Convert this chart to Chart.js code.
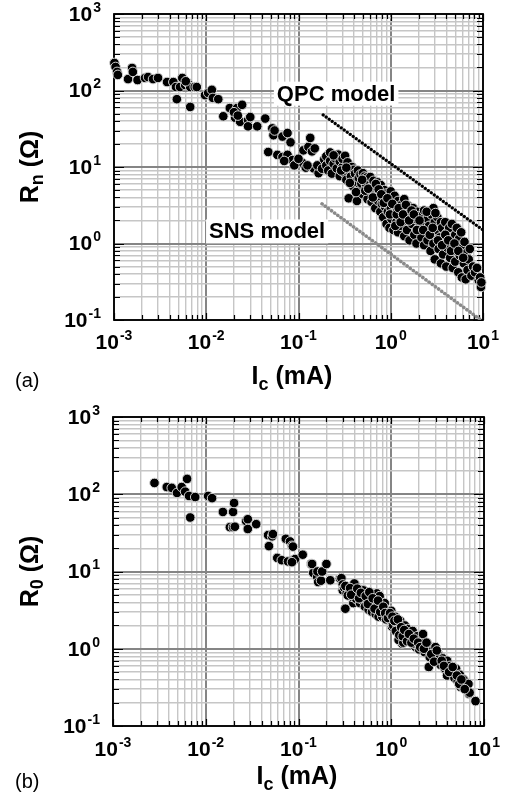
<!DOCTYPE html>
<html>
<head>
<meta charset="utf-8">
<script src="https://cdn.jsdelivr.net/npm/chart.js@4/dist/chart.umd.min.js"></script>
<style>
  html, body { margin: 0; padding: 0; background: #fff; }
  .panel { position: absolute; left: 0; width: 505px; }
</style>
</head>
<body>
<div class="panel" style="top:0;height:400px"><canvas id="rn_chart" width="505" height="400"></canvas></div>
<div class="panel" style="top:400px;height:402px"><canvas id="r0_chart" width="505" height="402"></canvas></div>
<script>
//axis decades (powers of ten) and the minor steps inside each decade
const xDecades = [-3, -2, -1, 0, 1];
const yDecades = [-1, 0, 1, 2, 3];
const minorSteps = [1, 2, 3, 4, 5, 6, 7, 8, 9];

//(a) normal resistance Rn vs critical current Ic
const rnIc = [
  0.00101, 0.00104, 0.00108, 0.00110, 0.00142, 0.00157, 0.00160, 0.00180, 0.00217, 0.00234,
  0.00265, 0.00300, 0.00376, 0.00440, 0.00470, 0.00480, 0.00520, 0.00550, 0.00590, 0.00630,
  0.00670, 0.00670, 0.00750, 0.00790, 0.00970, 0.01050, 0.01150, 0.01180, 0.01350, 0.00600,
  0.0153, 0.0180, 0.0206, 0.0216, 0.0233, 0.0245, 0.0284, 0.0284, 0.0357, 0.0436,
  0.0470, 0.0520, 0.0535, 0.0590, 0.0670, 0.0670, 0.0760, 0.0760, 0.0820, 0.0860,
  0.0970, 0.1100, 0.1130, 0.1280, 0.1340, 0.1460, 0.1650, 0.0200, 0.0220, 0.0300,
  0.0550, 0.0700, 0.0900, 0.1000, 0.1200, 0.1400, 0.1500, 0.1250, 0.1600, 0.1800,
  0.19, 0.20, 0.20, 0.21, 0.22, 0.22, 0.23, 0.24, 0.25, 0.26,
  0.27, 0.28, 0.28, 0.30, 0.30, 0.31, 0.32, 0.33, 0.34, 0.35,
  0.35, 0.37, 0.38, 0.39, 0.40, 0.41, 0.42, 0.43, 0.44, 0.45,
  0.46, 0.47, 0.48, 0.50, 0.50, 0.52, 0.54, 0.55, 0.56, 0.58,
  0.60, 0.60, 0.62, 0.63, 0.65, 0.67, 0.68, 0.70, 0.72, 0.73,
  0.75, 0.77, 0.78, 0.80, 0.80, 0.83, 0.85, 0.87, 0.88, 0.90,
  0.90, 0.93, 0.95, 0.97, 1.00, 1.00, 1.02, 1.05, 1.07, 1.10,
  1.10, 1.13, 1.15, 1.18, 1.20, 1.20, 1.25, 1.30, 1.30, 1.35,
  1.40, 1.40, 1.45, 1.50, 1.50, 1.55, 1.60, 1.65, 1.70, 1.75,
  1.80, 1.85, 1.90, 1.95, 2.00, 2.10, 2.15, 2.20, 2.30, 2.30,
  2.40, 2.50, 2.50, 2.60, 2.70, 2.75, 2.80, 2.90, 2.90, 3.00,
  3.00, 3.10, 3.20, 3.30, 3.40, 3.50, 3.50, 3.60, 3.70, 3.80,
  3.90, 4.00, 4.00, 4.10, 4.30, 4.40, 4.50, 4.60, 4.70, 4.80,
  5.00, 5.00, 5.20, 5.30, 5.40, 5.50, 5.60, 5.80, 5.90, 6.00,
  6.20, 6.30, 6.50, 6.60, 6.80, 7.00, 7.20, 7.50, 7.80, 8.20,
  8.60, 9.00, 9.30, 9.50, 9.60,
  0.24, 0.29, 0.33, 0.36, 0.42, 0.49, 0.53, 0.57, 0.64, 0.69,
  0.74, 0.79, 0.84, 0.92, 0.98, 1.04, 1.12, 1.16, 1.22, 1.28,
  1.36, 1.46, 1.58, 1.68, 1.78, 1.92, 2.05, 2.25, 2.45, 2.65,
  2.85, 3.05, 3.25, 3.60, 3.90, 4.20, 4.50, 4.90, 5.40, 6.10
];
const rnR = [
  229, 203, 175, 160, 141, 197, 175, 137, 146, 150,
  141, 146, 129, 129, 111, 77, 111, 146, 118, 125,
  61, 111, 111, 111, 87, 93, 102, 80, 77, 132,
  46, 59, 44, 59, 39, 65, 41, 34, 34, 43,
  15.7, 32, 26, 14.4, 25, 13.5, 27.8, 14.4, 21, 12.3,
  11.6, 11.3, 16.5, 18.3, 24, 9.6, 8.3, 52, 47, 45,
  30, 12, 10.5, 12.8, 9.8, 16, 17.5, 10.5, 10.5, 9.5,
  12.5, 10.5, 13.8, 9.0, 12, 15.5, 8.2, 11, 13, 9.6,
  14.5, 7.6, 11.8, 10, 12.8, 8.5, 14, 6.8, 11.5, 9.2,
  3.9, 7.5, 10, 5.6, 9.2, 8.2, 6.4, 3.6, 9.0, 7.2,
  5.2, 8.0, 6.1, 8.3, 4.4, 7.5, 5.8, 7.3, 3.8, 6.6,
  4.9, 7.4, 3.5, 5.6, 6.6, 4.3, 2.9, 5.4, 6.3, 3.6,
  4.6, 2.6, 5.8, 3.3, 4.0, 2.2, 5.0, 3.0, 3.8, 1.8,
  4.5, 2.6, 3.4, 1.6, 4.8, 2.9, 2.1, 3.7, 1.5, 2.5,
  4.2, 3.1, 1.9, 2.7, 1.4, 3.6, 2.2, 3.2, 1.7, 2.8,
  1.25, 3.8, 2.0, 2.6, 1.5, 3.1, 1.1, 2.3, 1.8, 2.9,
  1.3, 2.1, 1.0, 2.6, 1.6, 2.3, 1.2, 1.9, 0.95, 2.7,
  1.5, 2.1, 1.1, 1.7, 0.8, 2.4, 1.3, 2.9, 1.0, 1.9,
  0.62, 1.5, 2.2, 0.85, 1.2, 1.9, 0.55, 1.6, 0.72, 1.0,
  1.9, 0.5, 1.35, 0.88, 1.6, 0.65, 1.1, 1.8, 0.48, 0.8,
  1.3, 0.58, 1.6, 0.95, 0.42, 1.15, 0.7, 1.4, 0.36, 0.9,
  0.55, 1.05, 0.34, 0.75, 0.45, 0.62, 0.85, 0.38, 0.5, 0.42,
  0.48, 0.33, 0.36, 0.27, 0.31,
  14.2, 9.0, 9.8, 6.2, 4.7, 6.8, 4.9, 5.2, 4.0, 6.0,
  5.1, 4.4, 3.4, 3.9, 2.4, 3.3, 1.7, 2.4, 2.9, 1.9,
  2.4, 3.2, 2.0, 2.7, 2.4, 1.5, 2.0, 1.5, 2.6, 1.3,
  1.6, 2.5, 1.1, 0.95, 1.3, 1.1, 0.8, 1.0, 0.8, 0.65
];

//model lines (end points)
const qpcIc = [0.185, 10];
const qpcR = [48, 1.5];
const snsIc = [0.18, 9.5];
const snsR = [3.3, 0.1];

//(b) zero-bias resistance R0 vs critical current Ic
const r0Ic = [
  0.0028, 0.0038, 0.0043, 0.0049, 0.0055, 0.0060, 0.0063, 0.0066, 0.0068, 0.0077,
  0.0106, 0.0117, 0.0153, 0.0197, 0.0202, 0.0182, 0.0197, 0.0206, 0.0272, 0.0284,
  0.0284, 0.0350, 0.0470, 0.0520, 0.0530, 0.0480, 0.0590, 0.0660, 0.0730, 0.0810,
  0.0850, 0.0870, 0.0770, 0.0870, 0.0920, 0.1110, 0.1370, 0.1440, 0.1590, 0.1630,
  0.085, 0.140, 0.160, 0.175, 0.180, 0.200, 0.220, 0.280, 0.306, 0.347,
  0.410, 0.320, 0.390, 0.445, 0.500, 0.525, 0.594, 0.673, 0.700, 0.760,
  0.830, 0.980, 1.020, 1.160, 1.260, 1.420, 1.310, 1.610, 1.820, 2.150,
  2.440, 2.540, 2.880, 3.260, 3.690, 4.000, 4.360, 4.730, 5.140, 5.600,
  6.600, 6.900, 8.100,
  0.29, 0.30, 0.30, 0.31, 0.33, 0.35, 0.38, 0.40, 0.40, 0.42,
  0.44, 0.46, 0.48, 0.50, 0.50, 0.52, 0.55, 0.57, 0.60, 0.60,
  0.62, 0.65, 0.68, 0.70, 0.70, 0.73, 0.75, 0.78, 0.80, 0.85,
  0.88, 0.90, 0.95, 1.00, 1.00, 1.05, 1.10, 1.15, 1.20, 1.20,
  1.25, 1.30, 1.35, 1.40, 1.45, 1.50, 1.60, 1.70, 1.80, 1.90,
  2.00, 2.10, 2.20, 2.30, 2.50, 2.60, 2.80, 3.00, 3.00, 3.20,
  3.40, 3.60, 3.80, 4.00, 4.00, 4.30, 4.50, 4.80, 5.00, 5.20,
  5.50, 5.80, 6.00, 6.50, 6.80, 7.00,
  0.32, 0.34, 0.36, 0.37, 0.43, 0.45, 0.47, 0.53, 0.56, 0.58,
  0.63, 0.66, 0.72, 0.76, 0.82, 0.86, 0.92, 0.97, 1.03, 1.08,
  1.12, 1.18, 1.22, 1.28, 1.33, 1.38, 1.48, 1.55, 1.65, 1.75,
  1.95, 2.05, 2.25, 2.40, 2.70, 2.90, 3.10, 3.50, 3.70, 4.20,
  4.60, 5.10, 5.40, 5.70, 6.20
];
const r0R = [
  140, 124, 121, 104, 124, 108, 158, 95, 50, 92,
  95, 89, 59, 59, 77, 37.5, 37.5, 38, 45, 47.5,
  35.5, 41, 29.6, 28.5, 30.5, 21.3, 15, 14, 26.5, 24.5,
  21.5, 21, 13.5, 14, 14.5, 16.5, 12.5, 9.6, 8.5, 7.3,
  13.2, 12.5, 10, 7.6, 10, 12.5, 7.7, 8.1, 6.4, 5.5,
  6.7, 3.3, 3.9, 5.2, 5.7, 4.3, 4.06, 4.95, 3.5, 3.2,
  3.7, 2.47, 1.93, 2.13, 1.66, 1.29, 1.17, 1.43, 1.06, 1.5,
  1.17, 0.58, 0.96, 0.83, 0.71, 0.53, 0.58, 0.43, 0.48, 0.32,
  0.36, 0.26, 0.21,
  8.2, 6.8, 5.7, 6.2, 5.2, 5.8, 4.7, 7.0, 5.3, 4.4,
  5.6, 3.9, 4.8, 5.7, 4.2, 3.5, 4.6, 3.2, 4.0, 5.0,
  3.0, 4.4, 2.8, 3.6, 5.2, 2.6, 4.8, 3.3, 2.6, 3.9,
  2.4, 3.0, 2.7, 2.3, 3.1, 2.0, 2.6, 2.1, 1.8, 1.3,
  2.3, 1.6, 1.2, 2.0, 1.5, 1.8, 1.35, 1.7, 1.15, 1.45,
  0.98, 1.3, 1.55, 0.9, 1.1, 0.78, 0.95, 1.05, 0.72, 0.85,
  0.62, 0.75, 0.55, 0.7, 0.45, 0.6, 0.5, 0.42, 0.55, 0.38,
  0.46, 0.33, 0.4, 0.31, 0.35, 0.27,
  6.5, 4.9, 6.1, 5.0, 6.0, 4.5, 5.3, 4.8, 3.8, 5.4,
  4.5, 3.3, 4.2, 3.0, 3.5, 2.9, 2.5, 2.9, 2.6, 2.3,
  1.7, 2.4, 1.5, 1.9, 1.45, 1.75, 1.25, 1.55, 1.2, 1.35,
  1.2, 1.05, 1.0, 1.2, 0.85, 0.68, 0.95, 0.7, 0.6, 0.5,
  0.58, 0.45, 0.35, 0.4, 0.3
];

//------------------------------------------

const FONT = '"Liberation Sans", Arial, Helvetica, sans-serif';

function logTicks(decades) {
  const ticks = [];
  decades.forEach((d, i) => {
    const base = Math.pow(10, d);
    if (i === decades.length - 1) { ticks.push({value: base, major: true}); return; }
    minorSteps.forEach(m => ticks.push({value: m * base, major: m === 1}));
  });
  return ticks;
}

function pairs(xs, ys) {
  return xs.map((x, i) => ({x: x, y: ys[i]}));
}

//draw text made of several pieces (sub/superscripts)
function drawRich(ctx, parts, x, y, align) {
  let w = 0;
  parts.forEach(p => { ctx.font = p.font; p.w = ctx.measureText(p.text).width + (p.gap || 0); w += p.w; });
  let cx = align === 'right' ? x - w : x - w / 2;
  ctx.textAlign = 'left';
  ctx.textBaseline = 'middle';
  parts.forEach(p => {
    ctx.font = p.font;
    ctx.fillText(p.text, cx, y + (p.dy || 0));
    cx += p.w;
  });
}

function powParts(exp) {
  return [
    {text: '10', font: 'bold 21px ' + FONT, gap: 1},
    {text: String(exp), font: 'bold 14px ' + FONT, dy: -7}
  ];
}

//------------------------------------------

//plugin: frame, inward ticks, model labels, tick labels and titles
const logFrame = {
  id: 'logFrame',
  beforeDatasetsDraw(chart, args, o) {
    const {ctx, chartArea: {left, right, top, bottom}, scales: {x, y}} = chart;
    ctx.save();
    ctx.strokeStyle = '#000';
    ctx.lineWidth = 1.2;
    ctx.beginPath();
    x.ticks.forEach(t => {
      const px = Math.round(x.getPixelForValue(t.value)) + 0.5;
      const len = t.major ? 7 : 5;
      ctx.moveTo(px, bottom); ctx.lineTo(px, bottom - len);
      ctx.moveTo(px, top); ctx.lineTo(px, top + len);
    });
    y.ticks.forEach(t => {
      const py = Math.round(y.getPixelForValue(t.value)) + 0.5;
      const len = t.major ? 10 : 6;
      ctx.moveTo(left, py); ctx.lineTo(left + len, py);
      ctx.moveTo(right, py); ctx.lineTo(right - len, py);
    });
    ctx.stroke();

    //model labels with white boxes
    (o.notes || []).forEach(n => {
      const cx = x.getPixelForValue(n.x);
      const cy = y.getPixelForValue(n.y);
      ctx.font = 'bold 22px ' + FONT;
      const w = ctx.measureText(n.text).width;
      ctx.fillStyle = '#fff';
      ctx.fillRect(cx - w / 2 - 3, cy - 12, w + 6, 24);
      ctx.fillStyle = '#000';
      ctx.textAlign = 'center';
      ctx.textBaseline = 'middle';
      ctx.fillText(n.text, cx, cy + 1);
    });

    ctx.lineWidth = 1.8;
    ctx.strokeRect(left, top, right - left, bottom - top);
    ctx.restore();
  },
  afterDraw(chart, args, o) {
    const {ctx, chartArea: {left, right, top, bottom}, scales: {x, y}} = chart;
    ctx.save();
    ctx.fillStyle = '#000';
    x.ticks.filter(t => t.major).forEach(t => {
      drawRich(ctx, powParts(Math.round(Math.log10(t.value))), x.getPixelForValue(t.value), bottom + o.xLabelGap, 'center');
    });
    y.ticks.filter(t => t.major).forEach(t => {
      drawRich(ctx, powParts(Math.round(Math.log10(t.value))), left - 13, y.getPixelForValue(t.value) + 1, 'right');
    });

    //x title
    drawRich(ctx, [
      {text: 'I', font: 'bold 25px ' + FONT},
      {text: 'c', font: 'bold 18px ' + FONT, dy: 8},
      {text: ' (mA)', font: 'bold 25px ' + FONT}
    ], o.xTitleX, bottom + o.xTitleGap, 'center');

    //y title, rotated
    ctx.save();
    ctx.translate(31, (top + bottom) / 2);
    ctx.rotate(-Math.PI / 2);
    drawRich(ctx, [
      {text: 'R', font: 'bold 25px ' + FONT},
      {text: o.ySub, font: 'bold 18px ' + FONT, dy: 7},
      {text: ' (\u03A9)', font: 'bold 25px ' + FONT}
    ], 0, 0, 'center');
    ctx.restore();

    //panel tag
    ctx.font = '20px ' + FONT;
    ctx.textAlign = 'left';
    ctx.textBaseline = 'middle';
    ctx.fillText(o.tag, 15, bottom + o.tagGap);
    ctx.restore();
  }
};

//------------------------------------------

function gridOpts() {
  return {
    color: c => (c.tick && c.tick.major) ? '#858585' : '#c6c6c6',
    lineWidth: c => (c.tick && c.tick.major) ? 2 : 1.4,
    drawTicks: false
  };
}

function makeChart(id, datasets, pad, frameOpts) {
  return new Chart(document.getElementById(id), {
    type: 'scatter',
    data: {datasets: datasets},
    options: {
      responsive: false,
      devicePixelRatio: 1,
      animation: false,
      layout: {padding: pad},
      plugins: {
        legend: {display: false},
        tooltip: {enabled: false},
        logFrame: frameOpts
      },
      scales: {
        x: {
          type: 'logarithmic', min: 1e-3, max: 10,
          afterBuildTicks: s => { s.ticks = logTicks(xDecades); },
          afterFit: s => { s.height = 0; },
          ticks: {display: false, autoSkip: false},
          grid: gridOpts(),
          border: {display: false}
        },
        y: {
          type: 'logarithmic', min: 0.1, max: 1000,
          afterBuildTicks: s => { s.ticks = logTicks(yDecades); },
          afterFit: s => { s.width = 0; },
          ticks: {display: false, autoSkip: false},
          grid: gridOpts(),
          border: {display: false}
        }
      }
    },
    plugins: [logFrame]
  });
}

const dotStyle = {
  pointRadius: 4.8,
  pointBackgroundColor: '#000',
  pointBorderColor: '#d4d4d4',
  pointBorderWidth: 1,
  clip: false
};

//Render panel (a)
const rnChart = makeChart('rn_chart', [
  Object.assign({label: 'Rn', data: pairs(rnIc, rnR)}, dotStyle),
  {label: 'QPC model', data: pairs(qpcIc, qpcR), showLine: true, pointRadius: 0,
   borderColor: '#000', borderWidth: 3.2, borderDash: [0.1, 3.6], borderCapStyle: 'round'},
  {label: 'SNS model', data: pairs(snsIc, snsR), showLine: true, pointRadius: 0,
   borderColor: '#8a8a8a', borderWidth: 3.6, borderDash: [0.1, 3.8], borderCapStyle: 'round'}
], {left: 114, right: 22, top: 14, bottom: 80}, {
  xLabelGap: 23, xTitleGap: 57, xTitleX: 292, tagGap: 61, tag: '(a)', ySub: 'n',
  notes: [{text: 'QPC model', x: 0.256, y: 91}, {text: 'SNS model', x: 0.0457, y: 1.44}]
});

//Render panel (b)
const r0Chart = makeChart('r0_chart', [
  Object.assign({label: 'R0', data: pairs(r0Ic, r0R)}, dotStyle)
], {left: 113, right: 21, top: 17, bottom: 76}, {
  xLabelGap: 24, xTitleGap: 51, xTitleX: 297, tagGap: 56, tag: '(b)', ySub: '0',
  notes: []
});
</script>
</body>
</html>
